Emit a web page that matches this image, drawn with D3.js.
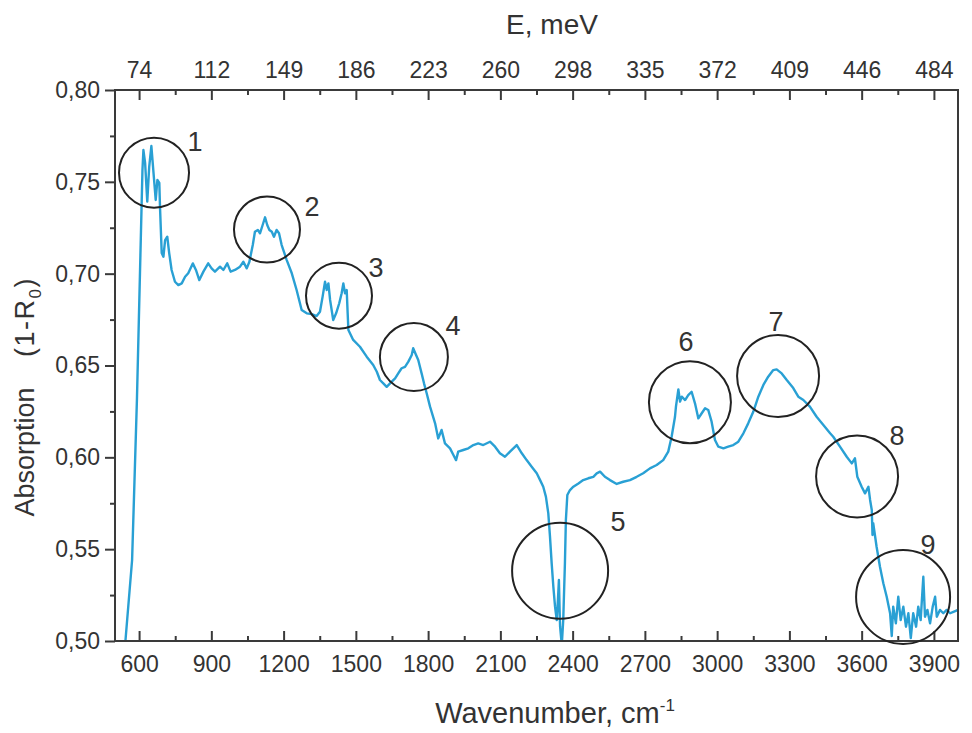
<!DOCTYPE html>
<html><head><meta charset="utf-8">
<script src="https://cdnjs.cloudflare.com/ajax/libs/d3/7.8.5/d3.min.js"></script>
<style>
body{margin:0;background:#fff;}
text{font-family:"Liberation Sans",Arial,sans-serif;fill:#333;}
</style></head><body>
<svg id="c" width="972" height="733"></svg>
<script>
// ---- data ----
const wavenumber = [542,571,591,606,614,618,625,634,642,651,659,669,676,684,687,694,701,708,717,725,735,749,763,777,791,804,823,836,850,867,887,901,915,936,950,966,980,998,1019,1033,1047,1058,1072,1081,1093,1102,1113,1123,1132,1141,1151,1160,1171,1181,1192,1213,1234,1254,1275,1296,1317,1337,1351,1362,1372,1379,1386,1393,1406,1418,1431,1441,1448,1455,1462,1466,1469,1489,1517,1545,1572,1587,1600,1614,1628,1649,1663,1676,1690,1704,1718,1732,1738,1750,1759,1773,1783,1794,1808,1829,1842,1856,1870,1891,1905,1916,1925,1946,1967,1988,2008,2029,2057,2078,2098,2119,2140,2168,2189,2209,2230,2251,2265,2278,2289,2299,2306,2313,2320,2327,2334,2339,2343,2346,2348,2355,2361,2368,2372,2378,2389,2403,2424,2444,2465,2486,2500,2514,2534,2555,2583,2610,2638,2666,2693,2721,2749,2776,2797,2811,2825,2829,2839,2846,2853,2867,2880,2894,2908,2922,2936,2950,2963,2977,2991,3005,3026,3046,3067,3088,3109,3129,3150,3171,3192,3212,3233,3247,3268,3289,3316,3337,3358,3385,3413,3441,3469,3482,3510,3538,3559,3572,3582,3600,3614,3628,3635,3642,3645,3648,3662,3676,3690,3704,3718,3725,3731,3742,3752,3762,3773,3784,3794,3804,3814,3826,3835,3845,3856,3863,3873,3884,3895,3905,3912,3925,3939,3953,3967,3981,4000];
const absorption = [0.498,0.5441,0.6312,0.7129,0.7564,0.7673,0.7603,0.7392,0.7582,0.7695,0.7564,0.7401,0.7510,0.7494,0.7357,0.7112,0.7092,0.7183,0.7201,0.7112,0.7020,0.6956,0.6938,0.6947,0.6983,0.7002,0.7056,0.7020,0.6965,0.7011,0.7056,0.7029,0.7011,0.7038,0.7020,0.7056,0.7011,0.7020,0.7038,0.7065,0.7029,0.7065,0.7156,0.7228,0.7238,0.7220,0.7265,0.7307,0.7265,0.7238,0.7228,0.7201,0.7238,0.7220,0.7156,0.7074,0.7002,0.6911,0.6802,0.6784,0.6780,0.6769,0.6793,0.6875,0.6956,0.6911,0.6947,0.6857,0.6748,0.6784,0.6839,0.6893,0.6947,0.6893,0.6911,0.6784,0.6693,0.6639,0.6602,0.6548,0.6503,0.6466,0.6421,0.6403,0.6384,0.6412,0.6430,0.6457,0.6485,0.6493,0.6521,0.6557,0.6594,0.6557,0.6530,0.6457,0.6403,0.6349,0.6276,0.6185,0.6103,0.6149,0.6076,0.6049,0.6013,0.5985,0.6031,0.6040,0.6049,0.6067,0.6076,0.6067,0.6085,0.6058,0.6022,0.6003,0.6031,0.6067,0.6022,0.5985,0.5949,0.5913,0.5876,0.5840,0.5786,0.5695,0.5568,0.5423,0.5295,0.5187,0.5114,0.5223,0.5332,0.5169,0.5078,0.4978,0.5114,0.5423,0.5659,0.5795,0.5822,0.5840,0.5858,0.5876,0.5886,0.5894,0.5913,0.5922,0.5894,0.5876,0.5855,0.5867,0.5876,0.5894,0.5913,0.5940,0.5958,0.5985,0.6031,0.6112,0.6221,0.6276,0.6370,0.6303,0.6330,0.6312,0.6339,0.6357,0.6294,0.6212,0.6240,0.6267,0.6258,0.6194,0.6094,0.6058,0.6049,0.6058,0.6067,0.6085,0.6131,0.6185,0.6248,0.6330,0.6394,0.6439,0.6475,0.6479,0.6457,0.6421,0.6377,0.6330,0.6312,0.6276,0.6221,0.6176,0.6131,0.6112,0.6058,0.6003,0.5967,0.5995,0.5894,0.5840,0.5804,0.5840,0.5768,0.5713,0.5577,0.5641,0.5513,0.5404,0.5314,0.5241,0.5151,0.5027,0.5187,0.5096,0.5241,0.5114,0.5187,0.5078,0.5151,0.5016,0.5151,0.5078,0.5187,0.5114,0.5350,0.5132,0.5169,0.5096,0.5187,0.5241,0.5132,0.5169,0.5151,0.5169,0.5151,0.5159,0.5169];
const xTicks = [600,900,1200,1500,1800,2100,2400,2700,3000,3300,3600,3900];
const xMinorTicks = [750,1050,1350,1650,1950,2250,2550,2850,3150,3450,3750];
const topTickLabels = ["74","112","149","186","223","260","298","335","372","409","446","484"];
const yTicks = [0.50,0.55,0.60,0.65,0.70,0.75,0.80];
const yMinorTicks = [0.525,0.575,0.625,0.675,0.725,0.775];
// annotation circles: centre in data units, radius in px; label position in data units
const markLabels = ["1","2","3","4","5","6","7","8","9"];
const markX = [662,1131,1430,1741,2348,2887,3253,3581,3772];
const markY = [0.755,0.724,0.688,0.6546,0.5383,0.630,0.6443,0.5896,0.524];
const markR = [35,33,33,34,48,41,41,41,47];
const labelX = [832,1318,1584,1903,2588,2871,3244,3747,3875];
const labelY = [0.7717,0.7363,0.7031,0.6715,0.5648,0.6628,0.6737,0.6116,0.5523];

// ---- layout ----
const L=115, R=958, T=90, B=641;
const svg=d3.select("#c");
const x=d3.scaleLinear().domain([500,4000]).range([L,R]);
const y=d3.scaleLinear().domain([0.50,0.80]).range([B,T]);
const axisCol="#3a3a3a";

svg.append("defs").append("clipPath").attr("id","clip")
  .append("rect").attr("x",L).attr("y",T).attr("width",R-L).attr("height",B-T);

// line
const pts=wavenumber.map((w,i)=>[w,absorption[i]]);
svg.append("path").datum(pts)
  .attr("clip-path","url(#clip)")
  .attr("fill","none").attr("stroke","#29a0d4").attr("stroke-width",2.4)
  .attr("stroke-linejoin","round")
  .attr("d",d3.line().x(d=>x(d[0])).y(d=>y(d[1])));

// frame
svg.append("rect").attr("x",L).attr("y",T).attr("width",R-L).attr("height",B-T)
  .attr("fill","none").attr("stroke",axisCol).attr("stroke-width",2);

function styleAxis(g){
  g.select(".domain").remove();
  g.selectAll("line").attr("stroke",axisCol).attr("stroke-width",2);
  g.selectAll("text").attr("font-size",23).attr("fill","#333")
   .style("font-family","'Liberation Sans',Arial,sans-serif");
}
// bottom
const gb=svg.append("g").attr("transform",`translate(0,${B})`)
  .call(d3.axisBottom(x).tickValues(xTicks).tickSize(-10).tickPadding(15).tickFormat(d3.format("d")));
styleAxis(gb);
const gbm=svg.append("g").attr("transform",`translate(0,${B})`)
  .call(d3.axisBottom(x).tickValues(xMinorTicks).tickSize(-5).tickFormat(""));
styleAxis(gbm);
// top
const gt=svg.append("g").attr("transform",`translate(0,${T})`)
  .call(d3.axisTop(x).tickValues(xTicks).tickSize(-10).tickPadding(12).tickFormat((d,i)=>topTickLabels[i]));
styleAxis(gt);
const gtm=svg.append("g").attr("transform",`translate(0,${T})`)
  .call(d3.axisTop(x).tickValues(xMinorTicks).tickSize(-5).tickFormat(""));
styleAxis(gtm);
// left
const gl=svg.append("g").attr("transform",`translate(${L},0)`)
  .call(d3.axisLeft(y).tickValues(yTicks).tickSize(10).tickPadding(5).tickFormat(d=>d3.format(".2f")(d).replace(".",",")));
styleAxis(gl);
const glm=svg.append("g").attr("transform",`translate(${L},0)`)
  .call(d3.axisLeft(y).tickValues(yMinorTicks).tickSize(5).tickFormat(""));
styleAxis(glm);

// titles
svg.append("text").attr("x",552).attr("y",34).attr("text-anchor","middle")
  .attr("font-size",28).text("E, meV");
const xt=svg.append("text").attr("x",555).attr("y",723).attr("text-anchor","middle").attr("font-size",29);
xt.append("tspan").text("Wavenumber, cm");
xt.append("tspan").attr("dy",-12).attr("font-size",17).text("-1");
svg.append("text").attr("transform","translate(34,452) rotate(-90)")
  .attr("text-anchor","middle").attr("font-size",27).text("Absorption");
const yt=svg.append("text").attr("transform","translate(34,317) rotate(-90)")
  .attr("text-anchor","middle").attr("font-size",27).attr("letter-spacing",1.5);
yt.append("tspan").text("(1-R");
yt.append("tspan").attr("dy",7).attr("font-size",17).text("0");
yt.append("tspan").attr("dy",-7).text(")");

// annotations
const ann=svg.append("g");
markLabels.forEach((lab,i)=>{
  ann.append("circle").attr("cx",x(markX[i])).attr("cy",y(markY[i])).attr("r",markR[i])
    .attr("fill","none").attr("stroke","#222").attr("stroke-width",2);
  ann.append("text").attr("x",x(labelX[i])).attr("y",y(labelY[i]))
    .attr("text-anchor","middle").attr("dominant-baseline","central")
    .attr("font-size",27).attr("fill","#222").text(lab);
});
</script></body></html>
